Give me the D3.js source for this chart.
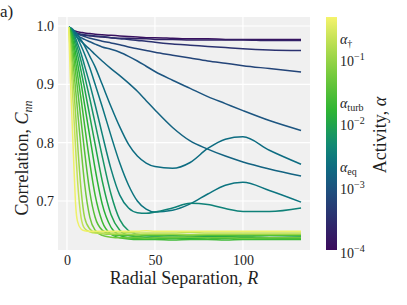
<!DOCTYPE html>
<html>
<head>
<meta charset="utf-8">
<script src="https://cdn.jsdelivr.net/npm/d3@7"></script>
<style>
  body { margin: 0; background: #fff; }
  svg text { font-family: "Liberation Serif", "Tinos", "Times New Roman", serif; fill: #1e1e1e; }
</style>
</head>
<body>
<div id="okvir"></div>
<script>
// radial separation grid shared by all curves
const radius = [1, 2, 3, 4, 5, 6, 8, 10, 13, 16, 20, 25, 30, 35, 40, 45, 50, 60, 70, 80, 90, 100, 115, 133]

// activity of each run (colour)
const activity = [1.2e-4, 2e-4, 3.5e-4, 6e-4, 1e-3, 1.5e-3, 2e-3, 2.5e-3, 3.5e-3,
  6e-3, 9e-3, 0.013, 0.02, 0.03, 0.05, 0.1, 0.2, 0.4]

// correlation C_nn per run
const corr01 = [0.998, 0.995, 0.993, 0.992, 0.991, 0.990, 0.989, 0.988, 0.987, 0.986, 0.985, 0.984, 0.983, 0.982, 0.981, 0.980, 0.980, 0.979, 0.978, 0.978, 0.977, 0.977, 0.977, 0.977]
const corr02 = [0.998, 0.994, 0.991, 0.989, 0.988, 0.987, 0.985, 0.984, 0.983, 0.982, 0.981, 0.980, 0.979, 0.979, 0.978, 0.978, 0.977, 0.977, 0.976, 0.976, 0.976, 0.976, 0.975, 0.975]
const corr03 = [0.998, 0.994, 0.991, 0.989, 0.988, 0.987, 0.986, 0.985, 0.984, 0.983, 0.982, 0.980, 0.978, 0.977, 0.975, 0.974, 0.972, 0.969, 0.967, 0.965, 0.963, 0.961, 0.959, 0.958]
const corr04 = [0.998, 0.994, 0.991, 0.989, 0.987, 0.986, 0.984, 0.982, 0.979, 0.977, 0.974, 0.971, 0.968, 0.964, 0.961, 0.958, 0.955, 0.950, 0.945, 0.940, 0.936, 0.932, 0.927, 0.921]
const corr05 = [0.998, 0.993, 0.990, 0.987, 0.985, 0.983, 0.980, 0.977, 0.973, 0.969, 0.964, 0.960, 0.955, 0.948, 0.940, 0.931, 0.922, 0.907, 0.893, 0.879, 0.867, 0.855, 0.838, 0.821]
const corr06 = [0.998, 0.994, 0.990, 0.986, 0.983, 0.980, 0.974, 0.968, 0.960, 0.951, 0.940, 0.927, 0.915, 0.902, 0.888, 0.872, 0.856, 0.826, 0.803, 0.789, 0.777, 0.767, 0.755, 0.743]
const corr07 = [0.998, 0.997, 0.995, 0.992, 0.989, 0.985, 0.976, 0.966, 0.948, 0.930, 0.900, 0.862, 0.827, 0.797, 0.777, 0.765, 0.759, 0.756, 0.766, 0.790, 0.806, 0.810, 0.787, 0.763]
const corr08 = [0.998, 0.996, 0.993, 0.989, 0.984, 0.979, 0.966, 0.952, 0.928, 0.900, 0.862, 0.812, 0.765, 0.727, 0.700, 0.686, 0.681, 0.684, 0.695, 0.712, 0.727, 0.732, 0.718, 0.698]
const corr09 = [0.998, 0.996, 0.991, 0.985, 0.978, 0.970, 0.953, 0.932, 0.900, 0.865, 0.815, 0.755, 0.710, 0.688, 0.680, 0.679, 0.681, 0.688, 0.696, 0.694, 0.687, 0.682, 0.682, 0.688]
const corr10 = [0.998, 0.995, 0.989, 0.981, 0.972, 0.962, 0.940, 0.915, 0.875, 0.833, 0.777, 0.712, 0.668, 0.649, 0.643, 0.641, 0.640, 0.641, 0.640, 0.639, 0.640, 0.640, 0.641, 0.640]
const corr11 = [0.998, 0.994, 0.986, 0.976, 0.964, 0.951, 0.923, 0.893, 0.845, 0.797, 0.735, 0.677, 0.650, 0.641, 0.639, 0.638, 0.638, 0.637, 0.638, 0.638, 0.639, 0.638, 0.637, 0.638]
const corr12 = [0.998, 0.992, 0.981, 0.967, 0.952, 0.936, 0.902, 0.865, 0.810, 0.755, 0.695, 0.655, 0.641, 0.637, 0.636, 0.636, 0.635, 0.636, 0.636, 0.635, 0.636, 0.636, 0.635, 0.636]
const corr13 = [0.998, 0.990, 0.975, 0.957, 0.937, 0.917, 0.875, 0.830, 0.765, 0.710, 0.665, 0.643, 0.637, 0.635, 0.634, 0.634, 0.634, 0.633, 0.634, 0.634, 0.633, 0.634, 0.634, 0.634]
const corr14 = [0.998, 0.985, 0.965, 0.942, 0.918, 0.892, 0.838, 0.785, 0.715, 0.672, 0.650, 0.643, 0.641, 0.641, 0.640, 0.641, 0.641, 0.640, 0.641, 0.641, 0.641, 0.640, 0.641, 0.641]
const corr15 = [0.998, 0.978, 0.950, 0.920, 0.888, 0.855, 0.790, 0.730, 0.672, 0.650, 0.641, 0.638, 0.637, 0.637, 0.637, 0.636, 0.637, 0.637, 0.638, 0.637, 0.637, 0.636, 0.637, 0.637]
const corr16 = [0.998, 0.970, 0.930, 0.888, 0.845, 0.800, 0.720, 0.672, 0.652, 0.646, 0.644, 0.643, 0.643, 0.643, 0.642, 0.643, 0.643, 0.643, 0.642, 0.643, 0.643, 0.643, 0.643, 0.643]
const corr17 = [0.998, 0.950, 0.895, 0.840, 0.785, 0.735, 0.672, 0.653, 0.647, 0.645, 0.645, 0.645, 0.645, 0.646, 0.645, 0.645, 0.645, 0.645, 0.646, 0.645, 0.645, 0.645, 0.645, 0.645]
const corr18 = [0.998, 0.905, 0.830, 0.755, 0.690, 0.665, 0.652, 0.649, 0.648, 0.648, 0.648, 0.648, 0.648, 0.648, 0.648, 0.649, 0.648, 0.648, 0.648, 0.648, 0.648, 0.648, 0.648, 0.648]

const series = [corr01, corr02, corr03, corr04, corr05, corr06, corr07, corr08, corr09,
  corr10, corr11, corr12, corr13, corr14, corr15, corr16, corr17, corr18]

// axis ticks
const xTicks = [0, 50, 100]
const yTicks = [0.7, 0.8, 0.9, 1.0]
const cbarPowers = [-4, -3, -2, -1]
const cbarNames = ["", "eq", "turb", "\u2020"]

const serif = "'Liberation Serif', 'Tinos', 'Times New Roman', serif"

function crtaj() {

  // 1. Dimenzije

  const sirina = 407
  const visina = 305
  const graf = { left: 58, right: 310, top: 17, bottom: 250 }
  const cbar = { left: 326, right: 337 }

  const svg = d3.select("#okvir")
    .append("svg")
      .attr("width", sirina)
      .attr("height", visina)
      .attr("font-family", serif)

  // 2. Skale

  const xSkala = d3.scaleLinear()
    .domain([-5.1, 138.1])
    .range([graf.left, graf.right])

  const ySkala = d3.scaleLinear()
    .domain([0.616, 1.0154])
    .range([graf.bottom, graf.top])

  const logMin = -4
  const logMax = -0.35
  const cSkala = d3.scaleLog()
    .domain([Math.pow(10, logMin), Math.pow(10, logMax)])
    .range([graf.bottom, graf.top])

  const boja = d3.scaleLinear()
    .domain([-4, -3.5, -3.0, -2.65, -2.3, -1.85, -1.3, -0.8, -0.35])
    .range(["#3b0b5c", "#2c2f6e", "#1c5580", "#0b7081", "#138e70", "#2ab332", "#70c83b", "#b6dd50", "#f5f36c"])
    .clamp(true)
  const bojaOd = a => boja(Math.log10(a))

  // 3. Pozadina i mreza

  svg.append("rect")
      .attr("x", graf.left)
      .attr("y", graf.top)
      .attr("width", graf.right - graf.left)
      .attr("height", graf.bottom - graf.top)
      .attr("fill", "#f0f0f0")

  svg.append("g").selectAll("line")
    .data(xTicks)
    .join("line")
      .attr("x1", d => xSkala(d))
      .attr("x2", d => xSkala(d))
      .attr("y1", graf.top)
      .attr("y2", graf.bottom)
      .attr("stroke", "#fff")
      .attr("stroke-width", 1.2)

  svg.append("g").selectAll("line")
    .data(yTicks)
    .join("line")
      .attr("x1", graf.left)
      .attr("x2", graf.right)
      .attr("y1", d => ySkala(d))
      .attr("y2", d => ySkala(d))
      .attr("stroke", "#fff")
      .attr("stroke-width", 1.2)

  // 4. Krivulje

  svg.append("clipPath")
      .attr("id", "rez")
    .append("rect")
      .attr("x", graf.left)
      .attr("y", graf.top)
      .attr("width", graf.right - graf.left)
      .attr("height", graf.bottom - graf.top)

  const linija = d3.line()
    .x((d, i) => xSkala(radius[i]))
    .y(d => ySkala(d))
    .curve(d3.curveMonotoneX)

  svg.append("g")
      .attr("clip-path", "url(#rez)")
    .selectAll("path")
    .data(series)
    .join("path")
      .attr("d", linija)
      .attr("fill", "none")
      .attr("stroke", (d, i) => bojaOd(activity[i]))
      .attr("stroke-width", 1.5)
      .attr("stroke-linejoin", "round")

  // 5. Osi

  const xOs = svg.append("g")
      .attr("transform", `translate(0, ${graf.bottom})`)
      .call(d3.axisBottom(xSkala).tickValues(xTicks).tickSize(0).tickPadding(5))
  xOs.attr("font-family", serif).attr("font-size", 14)
  xOs.select(".domain").remove()
  xOs.selectAll("text").attr("fill", "#1e1e1e")

  const yOs = svg.append("g")
      .attr("transform", `translate(${graf.left}, 0)`)
      .call(d3.axisLeft(ySkala).tickValues(yTicks).tickFormat(d3.format(".1f")).tickSize(0).tickPadding(4))
  yOs.attr("font-family", serif).attr("font-size", 14)
  yOs.select(".domain").remove()
  yOs.selectAll("text").attr("fill", "#1e1e1e")

  const xOznaka = svg.append("text")
      .attr("x", (graf.left + graf.right) / 2)
      .attr("y", 284)
      .attr("text-anchor", "middle")
      .attr("font-size", 18)
  xOznaka.append("tspan").text("Radial Separation, ")
  xOznaka.append("tspan").attr("font-style", "italic").text("R")

  const yOznaka = svg.append("text")
      .attr("transform", `translate(28, 158) rotate(-90)`)
      .attr("text-anchor", "middle")
      .attr("font-size", 18)
  yOznaka.append("tspan").text("Correlation, ")
  yOznaka.append("tspan").attr("font-style", "italic").text("C")
  yOznaka.append("tspan").attr("font-style", "italic").attr("font-size", 12).attr("dy", 4).text("nn")

  svg.append("text")
      .attr("x", 0)
      .attr("y", 17)
      .attr("font-size", 17)
      .text("a)")

  // 6. Skala boja

  const grad = svg.append("defs").append("linearGradient")
      .attr("id", "gradijent")
      .attr("x1", 0).attr("x2", 0)
      .attr("y1", 1).attr("y2", 0)
  d3.range(0, 1.0001, 0.05).forEach(t => {
    grad.append("stop")
        .attr("offset", t)
        .attr("stop-color", boja(logMin + t * (logMax - logMin)))
  })

  svg.append("rect")
      .attr("x", cbar.left)
      .attr("y", graf.top)
      .attr("width", cbar.right - cbar.left)
      .attr("height", graf.bottom - graf.top)
      .attr("fill", "url(#gradijent)")

  const cOznake = svg.append("g")
  cbarPowers.forEach((p, i) => {
    const y = cSkala(Math.pow(10, p))
    const t = cOznake.append("text")
        .attr("x", 340)
        .attr("y", y + 8)
        .attr("font-size", 14)
    t.append("tspan").text("10")
    t.append("tspan").attr("font-size", 10).attr("dy", -6).text("\u2212" + Math.abs(p))
    if (cbarNames[i]) {
      const n = cOznake.append("text")
          .attr("x", 340)
          .attr("y", y - 14)
          .attr("font-size", 14)
      n.append("tspan").attr("font-style", "italic").text("\u03b1")
      n.append("tspan").attr("font-size", 10).attr("dy", 3).text(cbarNames[i])
    }
  })

  const cNaslov = svg.append("text")
      .attr("transform", `translate(386, 135) rotate(-90)`)
      .attr("text-anchor", "middle")
      .attr("font-size", 18)
  cNaslov.append("tspan").text("Activity, ")
  cNaslov.append("tspan").attr("font-style", "italic").text("\u03b1")
}
crtaj()
</script>
</body>
</html>
